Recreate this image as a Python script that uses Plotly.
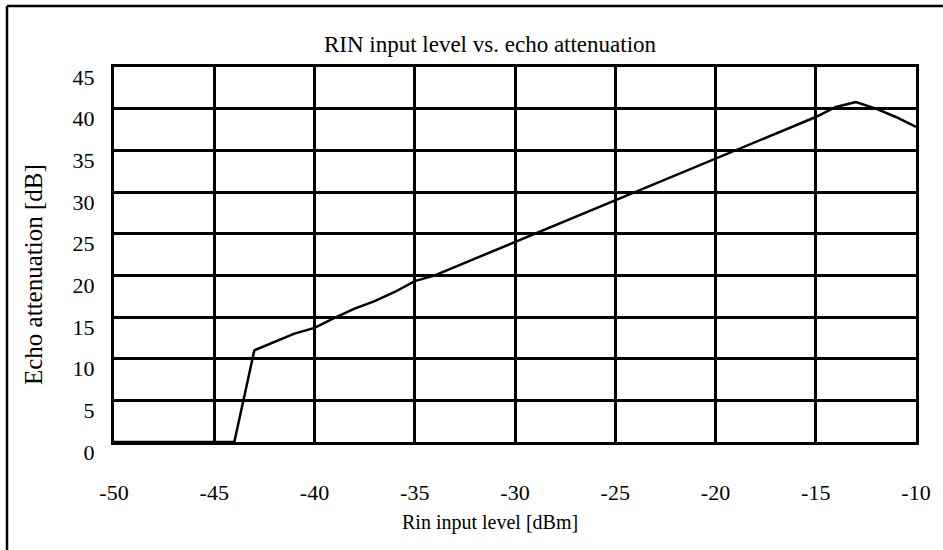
import plotly.graph_objects as go

rin_level_dbm = [-50, -49, -48, -47, -46, -45, -44, -43, -42, -41, -40, -39, -38, -37, -36,
                 -35, -34, -33, -32, -31, -30, -29, -28, -27, -26, -25, -24, -23, -22, -21,
                 -20, -19, -18, -17, -16, -15, -14, -13, -12, -11, -10]
echo_atten_db = [0, 0, 0, 0, 0, 0, 0, 11, 12, 13, 13.7, 14.9, 16, 16.9, 18,
                 19.3, 20, 21, 22, 23, 24, 25, 26, 27, 28, 29, 30, 31, 32, 33,
                 34, 35, 36, 37, 38, 39, 40.2, 40.8, 40, 39, 37.8]
x_ticks = [-50, -45, -40, -35, -30, -25, -20, -15, -10]
y_ticks = [0, 5, 10, 15, 20, 25, 30, 35, 40, 45]

FONT = "Liberation Serif"
W, H = 943, 550
L, R, T, B = 114, 27, 67, 108
pw, ph = W - L - R, H - T - B

fig = go.Figure()
fig.add_trace(go.Scatter(x=rin_level_dbm, y=echo_atten_db, mode="lines",
                         line=dict(color="black", width=2.5), showlegend=False,
                         hoverinfo="skip"))

fig.update_layout(
    width=W, height=H,
    margin=dict(l=L, r=R, t=T, b=B),
    paper_bgcolor="white", plot_bgcolor="white",
    font=dict(family=FONT, color="black", size=20),
    title=dict(text="RIN input level vs. echo attenuation", x=490 / W,
               xanchor="center", y=1 - 44 / H, yanchor="middle",
               font=dict(family=FONT, size=23, color="black")),
    xaxis=dict(range=[-50, -10], tickvals=x_ticks, ticktext=[str(v) for v in x_ticks],
               showgrid=True, gridcolor="black", gridwidth=2.5,
               showline=True, linecolor="black", linewidth=3, mirror=True,
               zeroline=False, ticks="", ticklabelstandoff=29,
               tickfont=dict(family=FONT, size=22, color="black")),
    yaxis=dict(range=[0, 45], tickvals=y_ticks, ticktext=[str(v) for v in y_ticks],
               showgrid=True, gridcolor="black", gridwidth=2.5,
               showline=True, linecolor="black", linewidth=3, mirror=True,
               zeroline=False, ticks="", ticklabelstandoff=12, ticklabelshift=10,
               tickfont=dict(family=FONT, size=22, color="black")),
)

# axis titles
fig.add_annotation(text="Rin input level [dBm]", xref="paper", yref="paper",
                   x=(490 - L) / pw, y=-(522 - (H - B)) / ph,
                   xanchor="center", yanchor="middle", showarrow=False,
                   font=dict(family=FONT, size=20, color="black"))
fig.add_annotation(text="Echo attenuation [dB]", xref="paper", yref="paper",
                   x=(33 - L) / pw, y=((H - B) - 275) / ph, textangle=-90,
                   xanchor="center", yanchor="middle", showarrow=False,
                   font=dict(family=FONT, size=25, color="black"))

# outer frame: top and left edges (right/bottom fall outside the image)
fig.add_shape(type="line", xref="paper", yref="paper",
              x0=(7 - L) / pw, x1=(W + 20 - L) / pw,
              y0=1 + (T - 6) / ph, y1=1 + (T - 6) / ph,
              line=dict(color="black", width=2.5))
fig.add_shape(type="line", xref="paper", yref="paper",
              x0=(7 - L) / pw, x1=(7 - L) / pw,
              y0=-(B + 20) / ph, y1=1 + (T - 6) / ph,
              line=dict(color="black", width=2.5))

fig.write_html("out.html", config={"displayModeBar": False},
               post_script="document.body.style.margin='0';")
